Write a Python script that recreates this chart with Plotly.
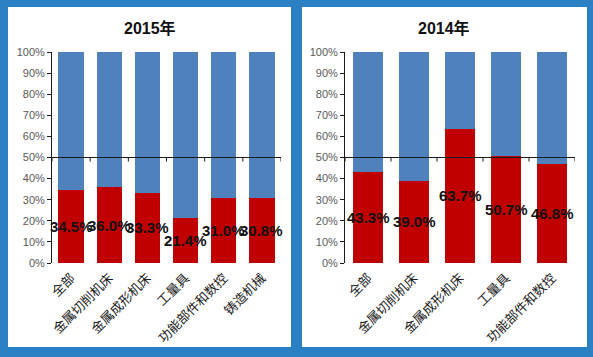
import plotly.graph_objects as go

W, H = 593, 357

titles = ["2015年", "2014年"]
cats_2015 = ["全部", "金属切削机床", "金属成形机床", "工量具", "功能部件和数控", "铸造机械"]
vals_2015 = [34.5, 36.0, 33.3, 21.4, 31.0, 30.8]
cats_2014 = ["全部", "金属切削机床", "金属成形机床", "工量具", "功能部件和数控"]
vals_2014 = [43.3, 39.0, 63.7, 50.7, 46.8]
y_ticks = [0, 10, 20, 30, 40, 50, 60, 70, 80, 90, 100]

RED = "#c00000"
BLUE = "#4f81bd"
BG = "#2b80c4"
CJK = "Noto Sans CJK SC"
LBL_FONT = "Liberation Sans, Arial, sans-serif"

def px(x):
    return x / W

def py(y):
    return 1 - y / H

panels = [
    dict(cats=cats_2015, vals=vals_2015, title=titles[0], box=(8, 291), plot=(52, 281), xa="x", ya="y"),
    dict(cats=cats_2014, vals=vals_2014, title=titles[1], box=(302, 587), plot=(345, 575), xa="x2", ya="y2"),
]
plot_top, plot_bot = 52, 263
box_top, box_bot = 7, 347

fig = go.Figure()
shapes = []
annotations = []

for i, p in enumerate(panels):
    cats, vals = p["cats"], p["vals"]
    rest = [100 - v for v in vals]
    fig.add_trace(go.Bar(x=cats, y=vals, marker_color=RED, marker_line_width=0,
                         xaxis=p["xa"], yaxis=p["ya"], showlegend=False, hoverinfo="skip"))
    fig.add_trace(go.Bar(x=cats, y=rest, marker_color=BLUE, marker_line_width=0,
                         xaxis=p["xa"], yaxis=p["ya"], showlegend=False, hoverinfo="skip"))
    # white panel
    shapes.append(dict(type="rect", xref="paper", yref="paper", layer="below",
                       x0=px(p["box"][0]), x1=px(p["box"][1]), y0=py(box_bot), y1=py(box_top),
                       fillcolor="white", line_width=0))
    # 50% axis line
    n = len(cats)
    shapes.append(dict(type="line", xref=p["xa"], yref=p["ya"], x0=-0.5, x1=n - 0.5, y0=50, y1=50,
                       line=dict(color="#1a1a1a", width=1.2)))
    for k in range(n + 1):
        shapes.append(dict(type="line", xref=p["xa"], yref=p["ya"], ysizemode="pixel", yanchor=50,
                           x0=k - 0.5, x1=k - 0.5, y0=0, y1=-4,
                           line=dict(color="#1a1a1a", width=1)))
    # data labels
    for c, v in zip(cats, vals):
        annotations.append(dict(x=c, y=v / 2, xref=p["xa"], yref=p["ya"], text=f"<b>{v:.1f}%</b>",
                                showarrow=False, font=dict(family=LBL_FONT, size=15, color="#111111"),
                                xanchor="center", yanchor="middle"))
    # title
    annotations.append(dict(x=px((p["box"][0] + p["box"][1]) / 2), y=py(28), xref="paper", yref="paper",
                            text=f"<b>{p['title']}</b>", showarrow=False,
                            font=dict(family="Liberation Sans, " + CJK, size=16, color="#111111"),
                            xanchor="center", yanchor="middle"))

def xaxis_cfg(p):
    return dict(domain=[px(p["plot"][0]), px(p["plot"][1])], anchor=p["ya"],
                type="category", categoryorder="array", categoryarray=p["cats"],
                range=[-0.5, len(p["cats"]) - 0.5], automargin=False,
                tickangle=-45, tickfont=dict(family=CJK, size=13, color="#1a1a1a"),
                ticklabelstandoff=4,
                showline=False, ticks="", showgrid=False, zeroline=False)

def yaxis_cfg(p):
    return dict(domain=[py(plot_bot), py(plot_top)], anchor=p["xa"], range=[0, 100],
                tickvals=y_ticks, ticktext=[f"{t}%" for t in y_ticks], automargin=False,
                tickfont=dict(family="Liberation Sans, Arial, sans-serif", size=11, color="#595959"),
                showline=True, linecolor="#1a1a1a", linewidth=1, ticks="outside", ticklen=4,
                tickcolor="#1a1a1a", showgrid=False, zeroline=False)

fig.update_layout(
    width=W, height=H, margin=dict(l=0, r=0, t=0, b=0, autoexpand=False),
    paper_bgcolor=BG, plot_bgcolor="#eef1f4",
    barmode="stack", bargap=0.34,
    xaxis=xaxis_cfg(panels[0]), yaxis=yaxis_cfg(panels[0]),
    xaxis2=xaxis_cfg(panels[1]), yaxis2=yaxis_cfg(panels[1]),
    shapes=shapes, annotations=annotations,
)

fig.write_html("out.html", config={"displayModeBar": False},
               post_script="document.body.style.margin='0';document.body.style.overflow='hidden';")
